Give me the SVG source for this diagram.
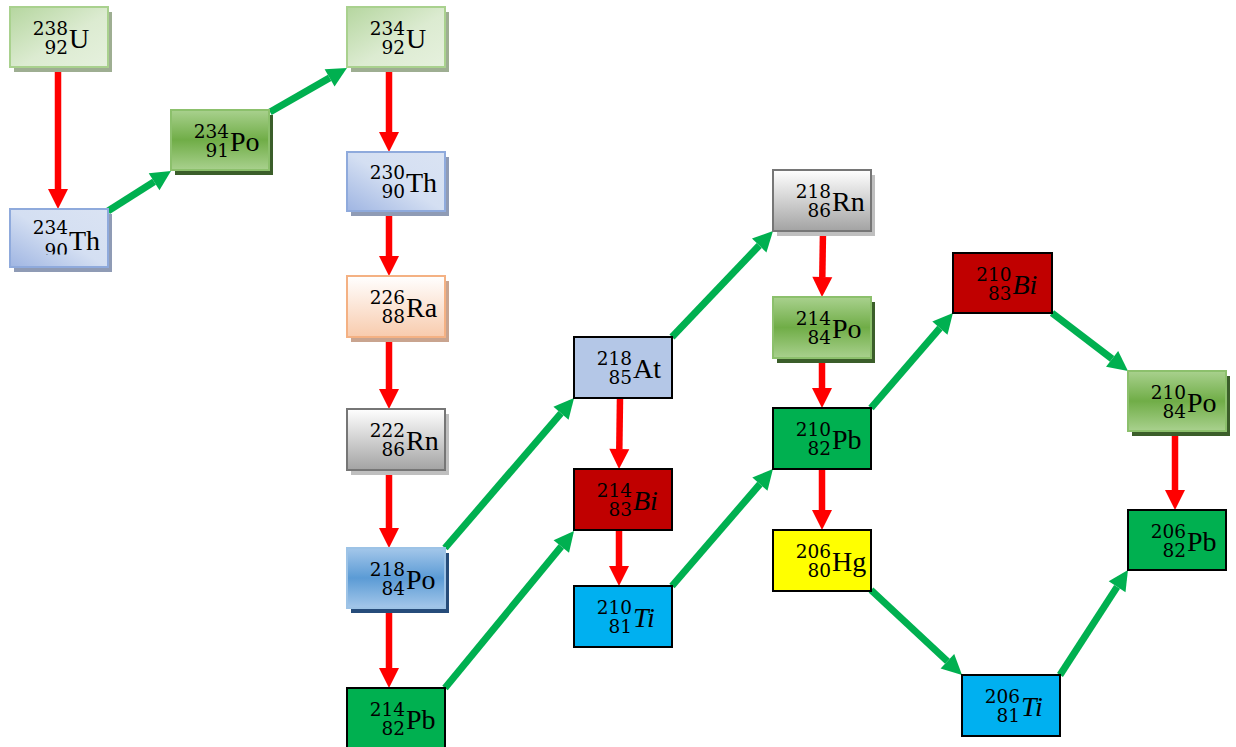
<svg xmlns="http://www.w3.org/2000/svg" width="1236" height="747" viewBox="0 0 1236 747">
<style>
.sup,.sub{font-family:"DejaVu Serif","Liberation Serif",serif;font-size:18.5px;text-anchor:end;fill:#000}
.sym{font-family:"Liberation Serif","DejaVu Serif",serif;font-size:28px;fill:#000}
.it{font-style:italic}
.red{stroke:#ff0000;stroke-width:6.5;fill:none;marker-end:url(#hr)}
.grn{stroke:#00b050;stroke-width:7;fill:none;marker-end:url(#hg)}
.solid{stroke:#000;stroke-width:2}
.gu{fill:url(#gU);stroke:#a9d18e;stroke-width:2}
.gth{fill:url(#gTh);stroke:#8faadc;stroke-width:2}
.gra{fill:url(#gRa);stroke:#f4b183;stroke-width:2}
.grn2{fill:url(#gRn);stroke:#767676;stroke-width:2}
.gpb{fill:url(#gPoB);stroke:#9dc3e6;stroke-width:2}
.gpg{fill:url(#gPoG);stroke:#8cc06c;stroke-width:2}
</style>
<defs>
<marker id="hr" markerUnits="userSpaceOnUse" markerWidth="20" markerHeight="20" refX="0" refY="10" orient="auto" overflow="visible"><path d="M0,0 L20,10 L0,20 z" fill="#ff0000"/></marker>
<marker id="hg" markerUnits="userSpaceOnUse" markerWidth="20" markerHeight="20" refX="0" refY="10" orient="auto" overflow="visible"><path d="M0,0 L20,10 L0,20 z" fill="#00b050"/></marker>
<linearGradient id="gU" x1="0" y1="0" x2="1" y2="1"><stop offset="0" stop-color="#b5d69f"/><stop offset="0.55" stop-color="#dcebd1"/><stop offset="1" stop-color="#e6f1de"/></linearGradient>
<linearGradient id="gTh" x1="0" y1="1" x2="1" y2="0"><stop offset="0" stop-color="#9fb5e2"/><stop offset="0.5" stop-color="#d4dff2"/><stop offset="1" stop-color="#dae3f3"/></linearGradient>
<linearGradient id="gRa" x1="0" y1="0" x2="0" y2="1"><stop offset="0" stop-color="#ffffff"/><stop offset="1" stop-color="#f8cbad"/></linearGradient>
<linearGradient id="gRn" x1="0" y1="0" x2="0" y2="1"><stop offset="0" stop-color="#ffffff"/><stop offset="1" stop-color="#a3a3a3"/></linearGradient>
<linearGradient id="gPoB" x1="0" y1="0" x2="0" y2="1"><stop offset="0" stop-color="#a4c7ea"/><stop offset="0.5" stop-color="#5b9bd5"/><stop offset="1" stop-color="#a4c7ea"/></linearGradient>
<linearGradient id="gPoG" x1="0" y1="0" x2="0" y2="1"><stop offset="0" stop-color="#a9d18e"/><stop offset="0.5" stop-color="#70ad47"/><stop offset="1" stop-color="#a9d18e"/></linearGradient>
<clipPath id="clipTh"><rect x="10" y="209" width="98" height="45.5"/></clipPath>
</defs>

<g id="connectors">
<line class="red" x1="58" y1="68" x2="58" y2="189"/>
<line class="red" x1="389" y1="68" x2="389" y2="132"/>
<line class="red" x1="389" y1="211" x2="389" y2="256"/>
<line class="red" x1="389" y1="338" x2="389" y2="389"/>
<line class="red" x1="389" y1="470" x2="389" y2="528"/>
<line class="red" x1="389" y1="608" x2="389" y2="668"/>
<line class="red" x1="620" y1="398" x2="619.3" y2="449"/>
<line class="red" x1="619" y1="531" x2="619" y2="566"/>
<line class="red" x1="823" y1="231" x2="822.3" y2="277"/>
<line class="red" x1="822" y1="359" x2="822" y2="388"/>
<line class="red" x1="822" y1="470" x2="822" y2="510"/>
<line class="red" x1="1175" y1="432" x2="1175" y2="490"/>
<line class="grn" x1="108" y1="211" x2="154.1" y2="181.7"/>
<line class="grn" x1="270" y1="112" x2="329.6" y2="77.9"/>
<line class="grn" x1="445" y1="548" x2="561" y2="413.2"/>
<line class="grn" x1="445" y1="688" x2="561.3" y2="546.5"/>
<line class="grn" x1="672" y1="337" x2="759.2" y2="245.5"/>
<line class="grn" x1="672" y1="586" x2="759.9" y2="484.1"/>
<line class="grn" x1="871" y1="408" x2="939.9" y2="328.1"/>
<line class="grn" x1="1052" y1="313" x2="1112.1" y2="358.9"/>
<line class="grn" x1="871" y1="590" x2="947.4" y2="661.3"/>
<line class="grn" x1="1060" y1="675" x2="1117.1" y2="586.8"/>
</g>

<g id="U238">
<rect x="14" y="12" width="98" height="60" fill="#9eae92"/>
<rect class="gu" x="10" y="7" width="98" height="60"/>
<text class="sup" x="68" y="34.5">238</text><text class="sub" x="68" y="53.5">92</text><text class="sym" x="69" y="47.5">U</text>
</g>
<g id="Th234">
<rect x="14" y="214" width="98" height="58" fill="#8f9bb5"/>
<rect class="gth" x="10" y="209" width="98" height="58"/>
<g clip-path="url(#clipTh)"><text class="sup" x="68" y="234">234</text><text class="sub" x="68" y="257">90</text><text class="sym" x="69" y="250">Th</text></g>
</g>
<g id="Po234a">
<rect x="175" y="115" width="98" height="60" fill="#3b5e2a"/>
<rect class="gpg" x="171" y="110" width="98" height="60"/>
<text class="sup" x="229" y="137.5">234</text><text class="sub" x="229" y="156.5">91</text><text class="sym" x="230" y="150.5">Po</text>
</g>
<g id="U234">
<rect x="351" y="12" width="98" height="60" fill="#9eae92"/>
<rect class="gu" x="347" y="7" width="98" height="60"/>
<text class="sup" x="405" y="34.5">234</text><text class="sub" x="405" y="53.5">92</text><text class="sym" x="406" y="47.5">U</text>
</g>
<g id="Th230">
<rect x="351" y="157" width="98" height="59" fill="#8f9bb5"/>
<rect class="gth" x="347" y="152" width="98" height="59"/>
<text class="sup" x="405" y="179">230</text><text class="sub" x="405" y="198">90</text><text class="sym" x="406" y="192">Th</text>
</g>
<g id="Ra226">
<rect x="351" y="281" width="98" height="61" fill="#c9a48f"/>
<rect class="gra" x="347" y="276" width="98" height="61"/>
<text class="sup" x="405" y="304">226</text><text class="sub" x="405" y="323">88</text><text class="sym" x="406" y="317">Ra</text>
</g>
<g id="Rn222">
<rect x="351" y="414" width="98" height="61" fill="#bfbfbf"/>
<rect class="grn2" x="347" y="409" width="98" height="61"/>
<text class="sup" x="405" y="437">222</text><text class="sub" x="405" y="456">86</text><text class="sym" x="406" y="450">Rn</text>
</g>
<g id="Po218">
<rect x="351" y="553" width="98" height="60" fill="#264c7a"/>
<rect class="gpb" x="347" y="548" width="98" height="60"/>
<text class="sup" x="405" y="575.5">218</text><text class="sub" x="405" y="594.5">84</text><text class="sym" x="406" y="588.5">Po</text>
</g>
<g id="Pb214">
<rect class="solid" x="347" y="688" width="98" height="61" fill="#00b050"/>
<text class="sup" x="405" y="716">214</text><text class="sub" x="405" y="735">82</text><text class="sym" x="406" y="729">Pb</text>
</g>
<g id="At218">
<rect class="solid" x="574" y="337" width="98" height="61" fill="#b4c7e7"/>
<text class="sup" x="632" y="365">218</text><text class="sub" x="632" y="384">85</text><text class="sym" x="633" y="378">At</text>
</g>
<g id="Bi214">
<rect class="solid" x="574" y="469" width="98" height="61" fill="#c00000"/>
<text class="sup" x="632" y="497">214</text><text class="sub" x="632" y="516">83</text><text class="sym it" x="633" y="510">Bi</text>
</g>
<g id="Ti210">
<rect class="solid" x="574" y="586" width="98" height="61" fill="#00b0f0"/>
<text class="sup" x="632" y="614">210</text><text class="sub" x="632" y="633">81</text><text class="sym it" x="633" y="627">Ti</text>
</g>
<g id="Rn218">
<rect x="777" y="175" width="98" height="61" fill="#bfbfbf"/>
<rect class="grn2" x="773" y="170" width="98" height="61"/>
<text class="sup" x="831" y="198">218</text><text class="sub" x="831" y="217">86</text><text class="sym" x="832" y="211">Rn</text>
</g>
<g id="Po214">
<rect x="777" y="302" width="98" height="61" fill="#3b5e2a"/>
<rect class="gpg" x="773" y="297" width="98" height="61"/>
<text class="sup" x="831" y="325">214</text><text class="sub" x="831" y="344">84</text><text class="sym" x="832" y="338">Po</text>
</g>
<g id="Pb210">
<rect class="solid" x="773" y="408" width="98" height="61" fill="#00b050"/>
<text class="sup" x="831" y="436">210</text><text class="sub" x="831" y="455">82</text><text class="sym" x="832" y="449">Pb</text>
</g>
<g id="Hg206">
<rect class="solid" x="773" y="530" width="98" height="61" fill="#ffff00"/>
<text class="sup" x="831" y="558">206</text><text class="sub" x="831" y="577">80</text><text class="sym" x="832" y="571">Hg</text>
</g>
<g id="Bi210">
<rect class="solid" x="953" y="253" width="99" height="60" fill="#c00000"/>
<text class="sup" x="1011.5" y="280.5">210</text><text class="sub" x="1011.5" y="299.5">83</text><text class="sym it" x="1012.5" y="293.5">Bi</text>
</g>
<g id="Po210">
<rect x="1132" y="376" width="98" height="60" fill="#3b5e2a"/>
<rect class="gpg" x="1128" y="371" width="98" height="60"/>
<text class="sup" x="1186" y="398.5">210</text><text class="sub" x="1186" y="417.5">84</text><text class="sym" x="1187" y="411.5">Po</text>
</g>
<g id="Pb206">
<rect class="solid" x="1128" y="510" width="98" height="60" fill="#00b050"/>
<text class="sup" x="1186" y="537.5">206</text><text class="sub" x="1186" y="556.5">82</text><text class="sym" x="1187" y="550.5">Pb</text>
</g>
<g id="Ti206">
<rect class="solid" x="962" y="675" width="98" height="61" fill="#00b0f0"/>
<text class="sup" x="1020" y="703">206</text><text class="sub" x="1020" y="722">81</text><text class="sym it" x="1021" y="716">Ti</text>
</g>
</svg>
